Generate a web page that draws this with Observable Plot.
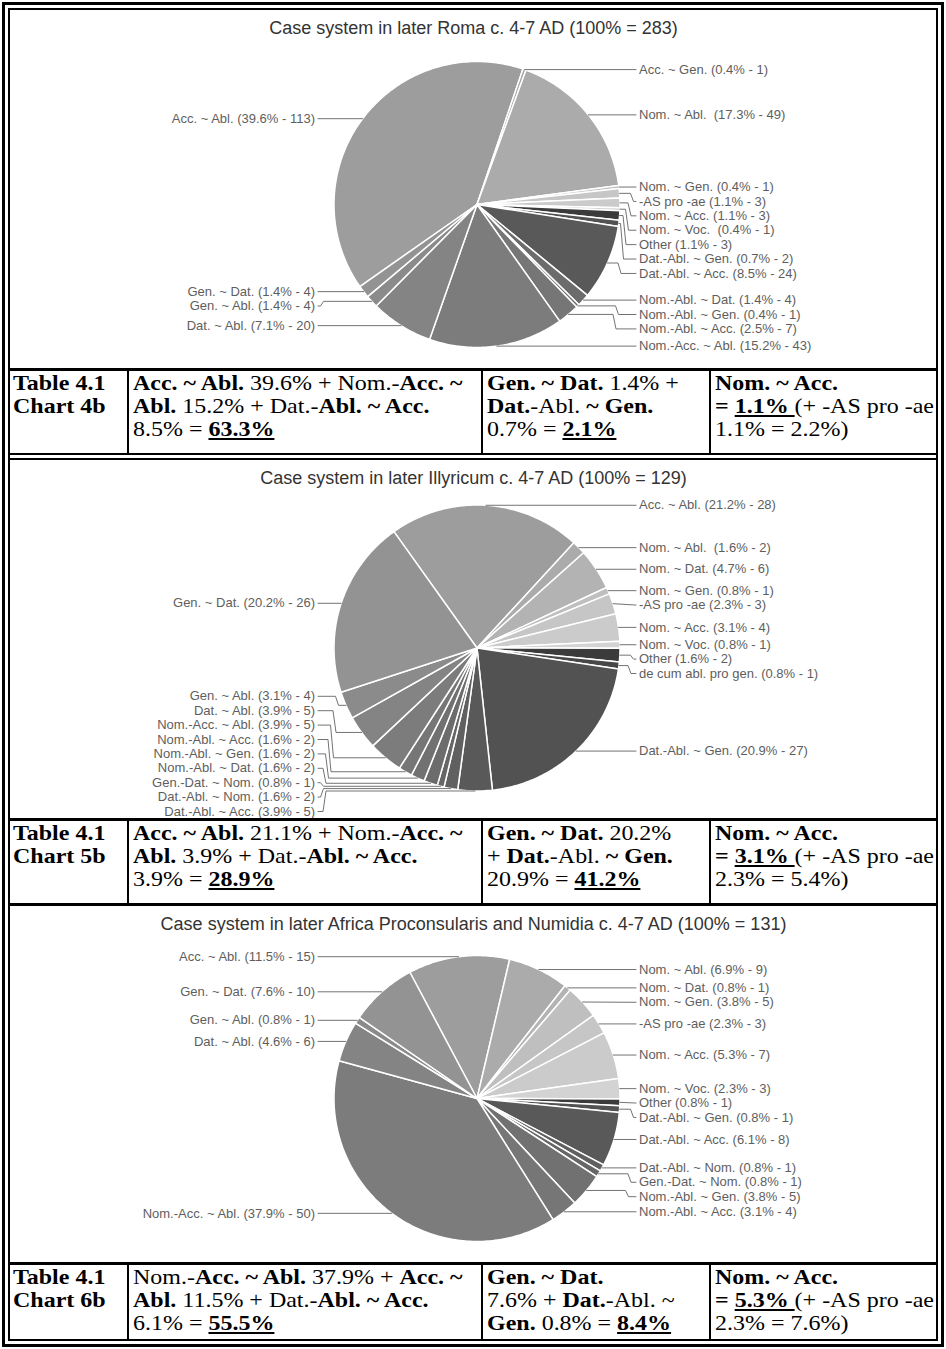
<!DOCTYPE html>
<html><head><meta charset="utf-8">
<script src="https://cdn.jsdelivr.net/npm/d3@7"></script>
<script src="https://cdn.jsdelivr.net/npm/@observablehq/plot@0.6"></script>
<style>
html,body{margin:0;padding:0;background:#fff;}
#page{position:relative;width:946px;height:1349px;background:#fff;overflow:hidden;}
.ln{position:absolute;background:#000;}
.box{position:absolute;box-sizing:border-box;border-style:solid;border-color:#000;}
.cell{position:absolute;font-family:"Liberation Serif","Times New Roman",serif;font-size:22px;line-height:23px;color:#000;white-space:nowrap;transform:scaleX(1.09);transform-origin:0 0;}
.cell u{text-decoration-thickness:2px;text-underline-offset:2px;}
</style></head><body><div id="page"></div>
<script>
// ---------- data ----------
const chartTitles = [
  "Case system in later Roma c. 4-7 AD (100% = 283)",
  "Case system in later Illyricum c. 4-7 AD (100% = 129)",
  "Case system in later Africa Proconsularis and Numidia c. 4-7 AD (100% = 131)"
];

const romaCases = ["Acc. ~ Abl.", "Acc. ~ Gen.", "Nom. ~ Abl. ", "Nom. ~ Gen.", "-AS pro -ae", "Nom. ~ Acc.", "Nom. ~ Voc. ", "Other", "Dat.-Abl. ~ Gen.", "Dat.-Abl. ~ Acc.", "Nom.-Abl. ~ Dat.", "Nom.-Abl. ~ Gen.", "Nom.-Abl. ~ Acc.", "Nom.-Acc. ~ Abl.", "Dat. ~ Abl.", "Gen. ~ Abl.", "Gen. ~ Dat."];
const romaCounts = [113, 1, 49, 1, 3, 3, 1, 3, 2, 24, 4, 1, 7, 43, 20, 4, 4];
const romaPercents = [39.6, 0.4, 17.3, 0.4, 1.1, 1.1, 0.4, 1.1, 0.7, 8.5, 1.4, 0.4, 2.5, 15.2, 7.1, 1.4, 1.4];

const illyCases = ["Acc. ~ Abl.", "Nom. ~ Abl. ", "Nom. ~ Dat.", "Nom. ~ Gen.", "-AS pro -ae", "Nom. ~ Acc.", "Nom. ~ Voc.", "Other", "de cum abl. pro gen.", "Dat.-Abl. ~ Gen.", "Dat.-Abl. ~ Acc.", "Dat.-Abl. ~ Nom.", "Gen.-Dat. ~ Nom.", "Nom.-Abl. ~ Dat.", "Nom.-Abl. ~ Gen.", "Nom.-Abl. ~ Acc.", "Nom.-Acc. ~ Abl.", "Dat. ~ Abl.", "Gen. ~ Abl.", "Gen. ~ Dat."];
const illyCounts = [28, 2, 6, 1, 3, 4, 1, 2, 1, 27, 5, 2, 1, 2, 2, 2, 5, 5, 4, 26];
const illyPercents = [21.2, 1.6, 4.7, 0.8, 2.3, 3.1, 0.8, 1.6, 0.8, 20.9, 3.9, 1.6, 0.8, 1.6, 1.6, 1.6, 3.9, 3.9, 3.1, 20.2];

const afrCases = ["Acc. ~ Abl.", "Nom. ~ Abl.", "Nom. ~ Dat.", "Nom. ~ Gen.", "-AS pro -ae", "Nom. ~ Acc.", "Nom. ~ Voc.", "Other", "Dat.-Abl. ~ Gen.", "Dat.-Abl. ~ Acc.", "Dat.-Abl. ~ Nom.", "Gen.-Dat. ~ Nom.", "Nom.-Abl. ~ Gen.", "Nom.-Abl. ~ Acc.", "Nom.-Acc. ~ Abl.", "Dat. ~ Abl.", "Gen. ~ Abl.", "Gen. ~ Dat."];
const afrCounts = [15, 9, 1, 5, 3, 7, 3, 1, 1, 8, 1, 1, 5, 4, 50, 6, 1, 10];
const afrPercents = [11.5, 6.9, 0.8, 3.8, 2.3, 5.3, 2.3, 0.8, 0.8, 6.1, 0.8, 0.8, 3.8, 3.1, 37.9, 4.6, 0.8, 7.6];

const caseOrder = ["Acc. ~ Abl.", "Acc. ~ Gen.", "Nom. ~ Abl.", "Nom. ~ Dat.", "Nom. ~ Gen.", "-AS pro -ae", "Nom. ~ Acc.", "Nom. ~ Voc.", "Other", "de cum abl. pro gen.", "Dat.-Abl. ~ Gen.", "Dat.-Abl. ~ Acc.", "Dat.-Abl. ~ Nom.", "Gen.-Dat. ~ Nom.", "Nom.-Abl. ~ Dat.", "Nom.-Abl. ~ Gen.", "Nom.-Abl. ~ Acc.", "Nom.-Acc. ~ Abl.", "Dat. ~ Abl.", "Gen. ~ Abl.", "Gen. ~ Dat."];
const caseShades = ["#9d9d9d", "#a6a6a6", "#ababab", "#b3b3b3", "#bfbfbf", "#c6c6c6", "#cbcbcb", "#d3d3d3", "#3b3b3b", "#474747", "#525252", "#595959", "#606060", "#666666", "#6c6c6c", "#717171", "#767676", "#7c7c7c", "#848484", "#8b8b8b", "#939393"];

// table texts
const tableRows = [
  [["<b>Table 4.1</b>", "<b>Chart 4b</b>"],
   ["<b>Acc. ~ Abl.</b> 39.6% + Nom.-<b>Acc. ~</b>", "<b>Abl.</b> 15.2% + Dat.-<b>Abl. ~ Acc.</b>", "8.5% = <b><u>63.3%</u></b>"],
   ["<b>Gen. ~ Dat.</b> 1.4% +", "<b>Dat.</b>-Abl. <b>~ Gen.</b>", "0.7% = <b><u>2.1%</u></b>"],
   ["<b>Nom. ~ Acc.</b>", "<b>= <u>1.1% </u></b>(+ -AS pro -ae", "1.1% = 2.2%)"]],
  [["<b>Table 4.1</b>", "<b>Chart 5b</b>"],
   ["<b>Acc. ~ Abl.</b> 21.1% + Nom.-<b>Acc. ~</b>", "<b>Abl.</b> 3.9% + Dat.-<b>Abl. ~ Acc.</b>", "3.9% = <b><u>28.9%</u></b>"],
   ["<b>Gen. ~ Dat.</b> 20.2%", "+ <b>Dat.</b>-Abl. <b>~ Gen.</b>", "20.9% = <b><u>41.2%</u></b>"],
   ["<b>Nom. ~ Acc.</b>", "<b>= <u>3.1% </u></b>(+ -AS pro -ae", "2.3% = 5.4%)"]],
  [["<b>Table 4.1</b>", "<b>Chart 6b</b>"],
   ["Nom.-<b>Acc. ~ Abl.</b> 37.9% + <b>Acc. ~</b>", "<b>Abl.</b> 11.5% + Dat.-<b>Abl. ~ Acc.</b>", "6.1% = <b><u>55.5%</u></b>"],
   ["<b>Gen. ~ Dat.</b>", "7.6% + <b>Dat.</b>-Abl. ~", "<b>Gen.</b> 0.8% = <b><u>8.4%</u></b>"],
   ["<b>Nom. ~ Acc.</b>", "<b>= <u>5.3% </u></b>(+ -AS pro -ae", "2.3% = 7.6%)"]]
];

// ---------- layout ----------
const page = document.getElementById("page");
function addDiv(cls, st, html) {
  const d = document.createElement("div");
  d.className = cls;
  Object.assign(d.style, st);
  if (html) d.innerHTML = html;
  page.appendChild(d);
  return d;
}
const px = v => v + "px";
function hline(x, y, w, h) { addDiv("ln", {left: px(x), top: px(y), width: px(w), height: px(h)}); }

const panels = [
  {top: 10, height: 358, cy: 194, start: -125, rowTop: 368, rowBottom: 453},
  {top: 460, height: 358, cy: 187.5, start: -35.5, rowTop: 818, rowBottom: 903},
  {top: 906, height: 356, cy: 192, start: -28, rowTop: 1262, rowBottom: 1339}
];
const colX = [127, 481, 709];

const shade = new Map(caseOrder.map((c, i) => [c, caseShades[i]]));

function pieChart(cases, counts, percents, title, L) {
  const W = 926, H = L.height, cx = 466.5, cy = L.cy, r = 143;
  const rad = Math.PI / 180;
  const arcs = d3.pie().sort(null).value(d => d)
    .startAngle(L.start * rad).endAngle((L.start + 360) * rad)(counts);
  const slices = [];
  arcs.forEach((a, i) => {
    const color = shade.get(cases[i].trim());
    slices.push({k: i, color, x: cx, y: cy});
    const n = Math.max(2, Math.ceil((a.endAngle - a.startAngle) / rad));
    for (let j = 0; j <= n; j++) {
      const t = a.startAngle + (a.endAngle - a.startAngle) * j / n;
      slices.push({k: i, color, x: cx + r * Math.sin(t), y: cy - r * Math.cos(t)});
    }
  });
  const labels = arcs.map((a, i) => {
    const m = (a.startAngle + a.endAngle) / 2;
    const deg = ((m / rad) % 360 + 360) % 360;
    const side = deg < 180 ? "right" : "left";
    const py = cy - r * Math.cos(m);
    return {i, side, px: cx + r * Math.sin(m), py, want: py,
      text: `${cases[i]} (${percents[i]}% - ${counts[i]})`};
  });
  const gap = 14.4, minY = 34, maxY = H - 7;
  const lead = [];
  for (const side of ["left", "right"]) {
    const g = labels.filter(d => d.side === side).sort((a, b) => a.want - b.want);
    let prev = -Infinity;
    g.forEach(d => { d.y = Math.max(d.want, prev + gap, minY); prev = d.y; });
    let next = Infinity;
    for (let j = g.length - 1; j >= 0; j--) { const d = g[j]; d.y = Math.min(d.y, next - gap, maxY); next = d.y; }
    const dir = side === "right" ? 1 : -1;
    g.forEach(d => { d.tx = cx + dir * (r + 19); d.end = d.tx - dir * 3; });
    const down = g.filter(d => d.y - d.py > 2).sort((a, b) => a.y - b.y);
    const up = g.filter(d => d.py - d.y > 2).sort((a, b) => b.y - a.y);
    [down, up].forEach(arr => arr.forEach((d, k) => { d.bx = d.end - dir * (4 + 2.5 * k); }));
    g.forEach(d => {
      if (d.bx === undefined) {
        lead.push({k: d.i, x: d.px, y: d.py}, {k: d.i, x: d.end, y: d.y});
      } else {
        const bx = dir > 0 ? Math.max(d.bx, d.px + 3) : Math.min(d.bx, d.px - 3);
        lead.push({k: d.i, x: d.px, y: d.py}, {k: d.i, x: bx - dir * 1.5, y: d.py},
                  {k: d.i, x: bx + dir * 1.5, y: d.y}, {k: d.i, x: d.end, y: d.y});
      }
    });
  }
  const font = "'Liberation Sans', Arial, Helvetica, sans-serif";
  const svg = Plot.plot({
    width: W, height: H, margin: 0,
    x: {domain: [0, W], range: [0, W], axis: null},
    y: {domain: [0, H], range: [0, H], axis: null},
    color: {type: "identity"},
    style: {background: "#fff", overflow: "hidden"},
    marks: [
      Plot.line(slices, {x: "x", y: "y", z: "k", fill: "color", stroke: "#fff", strokeWidth: 1.5, curve: "linear-closed", strokeLinejoin: "round"}),
      Plot.line(lead, {x: "x", y: "y", z: "k", stroke: "#737373", strokeWidth: 1, curve: "linear"}),
      Plot.text(labels.filter(d => d.side === "right"), {x: "tx", y: "y", text: "text", textAnchor: "start", fontSize: 13, fontFamily: font, fill: "#5e5e5e"}),
      Plot.text(labels.filter(d => d.side === "left"), {x: "tx", y: "y", text: "text", textAnchor: "end", fontSize: 13, fontFamily: font, fill: "#5e5e5e"}),
      Plot.text([title], {frameAnchor: "top", dy: 11, text: d => d, fontSize: 18, fontFamily: font, fill: "#333"})
    ]
  });
  svg.style.position = "absolute";
  svg.style.left = "10px";
  svg.style.top = px(L.top);
  page.appendChild(svg);
}

const datasets = [
  [romaCases, romaCounts, romaPercents],
  [illyCases, illyCounts, illyPercents],
  [afrCases, afrCounts, afrPercents]
];
datasets.forEach((ds, i) => pieChart(ds[0], ds[1], ds[2], chartTitles[i], panels[i]));

// table rows
panels.forEach((P, i) => {
  hline(8, P.rowTop, 930, 3);
  colX.forEach(x => hline(x, P.rowTop, 2, P.rowBottom - P.rowTop + 2));
  const lefts = [13, colX[0] + 6, colX[1] + 6, colX[2] + 6];
  tableRows[i].forEach((cellLines, c) => {
    addDiv("cell", {left: px(lefts[c]), top: px(P.rowTop + 3)}, cellLines.join("<br>"));
  });
});
hline(8, 453, 930, 2);
hline(8, 458, 930, 2);
hline(8, 903, 930, 3);

// outer double frame
addDiv("box", {left: "2px", top: "2px", width: "942px", height: "1345px", borderWidth: "3px"});
addDiv("box", {left: "8px", top: "8px", width: "930px", height: "1333px", borderWidth: "2px"});
</script></body></html>
